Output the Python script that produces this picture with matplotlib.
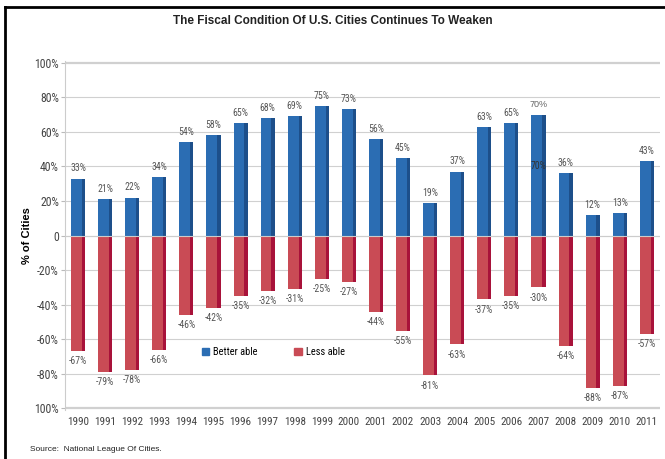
import numpy as np
import matplotlib.pyplot as plt
from matplotlib import font_manager
from matplotlib.lines import Line2D
from matplotlib.patches import Rectangle

years = [str(y) for y in range(1990, 2012)]
better = [33, 21, 22, 34, 54, 58, 65, 68, 69, 75, 73, 56, 45, 19, 37, 63, 65, 70, 36, 12, 13, 43]
less = [-67, -79, -78, -66, -46, -42, -35, -32, -31, -25, -27, -44, -55, -81, -63, -37, -35, -30, -64, -88, -87, -57]
yticks = [100, 80, 60, 40, 20, 0, -20, -40, -60, -80, -100]
ytick_labels = ["100%", "80%", "60%", "40%", "20%", "0", "-20%", "-40%", "-60%", "-80%", "100%"]

names = {f.name for f in font_manager.fontManager.ttflist}
narrow = "DejaVu Sans"
for cand in ["Roboto Condensed", "Liberation Sans Narrow", "Open Sans Condensed", "DejaVu Sans Condensed"]:
    if cand in names:
        narrow = cand
        break
sans = "Liberation Sans"

blue = "#2b6db3"
blue_dark = "#1d4f8a"
red = "#c94b55"
red_dark = "#a8123a"
label_col = "#555555"

fig = plt.figure(figsize=(6.65, 4.59), dpi=100)
ax = fig.add_axes([0.097, 0.1068, 0.896, 0.760])

x = np.arange(len(years))
w = 0.52
ax.bar(x, better, width=w, color=blue, zorder=3)
ax.bar(x + w / 2 - 0.06, better, width=0.12, color=blue_dark, zorder=3)
ax.bar(x, less, width=w, color=red, zorder=3)
ax.bar(x + w / 2 - 0.06, less, width=0.12, color=red_dark, zorder=3)

for i in range(len(years)):
    if i == 17:
        ax.text(x[i], better[i] + 3, f"{better[i]}%", ha="center", va="bottom",
                fontsize=6.5, color="#666666", family=sans)
        ax.text(x[i], 40, f"{better[i]}%", ha="center", va="center",
                fontsize=7, color="#333333", family=narrow, zorder=4)
    else:
        ax.text(x[i], better[i] + 3, f"{better[i]}%", ha="center", va="bottom",
                fontsize=7, color=label_col, family=narrow)
    ax.text(x[i], less[i] - 3, f"{less[i]}%", ha="center", va="top",
            fontsize=7, color=label_col, family=narrow)

ax.set_xlim(-0.5, len(years) - 0.5)
ax.set_ylim(-101, 101)
ax.set_yticks(yticks)
ax.set_yticklabels(ytick_labels, family=narrow, fontsize=8.5, color="#444444")
ax.set_xticks(x)
ax.set_xticklabels(years, family=narrow, fontsize=8, color="#444444")
ax.tick_params(axis="x", length=0, pad=5)
ax.tick_params(axis="y", length=3, color="#bbbbbb", pad=1)
ax.set_ylabel("% of Cities", family=sans, fontsize=8, fontweight="bold")
ax.yaxis.set_label_coords(-0.055, 0.5)

for t in yticks:
    lw = 1.6 if abs(t) == 100 else 0.8
    ax.axhline(t, color="#d0d0d0", lw=lw, zorder=1)
ax.axhline(0, color="#cccccc", lw=0.8, zorder=4)

for s in ["top", "right", "bottom"]:
    ax.spines[s].set_visible(False)
ax.spines["left"].set_color("#cccccc")

handles = [Rectangle((0, 0), 1, 1, color=blue), Rectangle((0, 0), 1, 1, color=red)]
ax.legend(handles, ["Better able", "Less able"], loc="center left",
          bbox_to_anchor=(0.215, 0.166), ncol=2, frameon=False, columnspacing=3.5,
          handlelength=0.7, handleheight=0.7, handletextpad=0.4,
          prop={"family": narrow, "size": 7.5})

fig.text(0.5, 0.955, "The Fiscal Condition Of U.S. Cities Continues To Weaken",
         ha="center", va="center", fontsize=8.5, fontweight="bold", family=sans, color="#222222")
fig.text(0.045, 0.02, "Source:  National League Of Cities.", ha="left", va="center",
         fontsize=6, family=sans, color="#222222")

fig.add_artist(Line2D([0.008, 0.008], [0.0, 0.985], color="black", lw=2))
fig.add_artist(Line2D([0.008, 1.0], [0.985, 0.985], color="black", lw=2))

fig.savefig("out.png", dpi=100)
